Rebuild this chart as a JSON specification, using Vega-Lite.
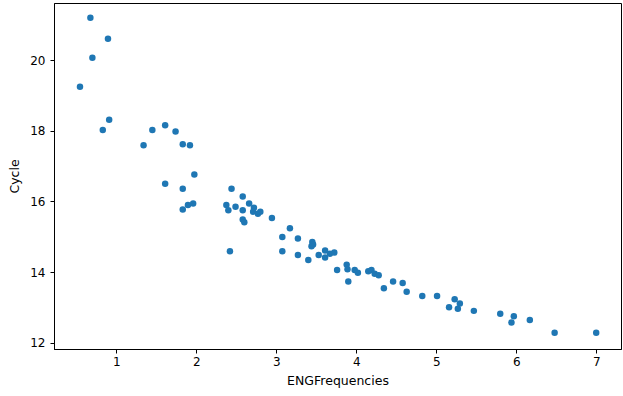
{
  "$schema": "https://vega.github.io/schema/vega-lite/v6.json",
  "autosize": {"type": "none"},
  "width": 567,
  "height": 346,
  "padding": {"left": 54, "top": 3, "right": 2, "bottom": 47},
  "background": "white",
  "config": {
    "view": {"stroke": "black", "strokeWidth": 1},
    "font": "DejaVu Sans",
    "axis": {
      "grid": false,
      "domainColor": "black",
      "tickColor": "black",
      "tickSize": 4,
      "labelColor": "black",
      "titleColor": "black",
      "labelFont": "DejaVu Sans",
      "titleFont": "DejaVu Sans",
      "labelFontSize": 12,
      "titleFontSize": 12.5,
      "titleFontWeight": "normal"
    }
  },
  "data": {
    "values": [
      {"ENGFrequencies": 0.675, "Cycle": 21.2},
      {"ENGFrequencies": 0.895, "Cycle": 20.61},
      {"ENGFrequencies": 0.70, "Cycle": 20.07},
      {"ENGFrequencies": 0.545, "Cycle": 19.25},
      {"ENGFrequencies": 0.91, "Cycle": 18.31},
      {"ENGFrequencies": 0.83, "Cycle": 18.02},
      {"ENGFrequencies": 1.34, "Cycle": 17.59},
      {"ENGFrequencies": 1.45, "Cycle": 18.02},
      {"ENGFrequencies": 1.61, "Cycle": 18.16},
      {"ENGFrequencies": 1.74, "Cycle": 17.98},
      {"ENGFrequencies": 1.83, "Cycle": 17.62},
      {"ENGFrequencies": 1.92, "Cycle": 17.59},
      {"ENGFrequencies": 1.975, "Cycle": 16.76},
      {"ENGFrequencies": 1.61, "Cycle": 16.5},
      {"ENGFrequencies": 1.83, "Cycle": 16.36},
      {"ENGFrequencies": 1.83, "Cycle": 15.77},
      {"ENGFrequencies": 1.895, "Cycle": 15.9},
      {"ENGFrequencies": 1.96, "Cycle": 15.94},
      {"ENGFrequencies": 2.44, "Cycle": 16.36},
      {"ENGFrequencies": 2.375, "Cycle": 15.9},
      {"ENGFrequencies": 2.40, "Cycle": 15.75},
      {"ENGFrequencies": 2.49, "Cycle": 15.85},
      {"ENGFrequencies": 2.42, "Cycle": 14.59},
      {"ENGFrequencies": 2.58, "Cycle": 16.14},
      {"ENGFrequencies": 2.58, "Cycle": 15.75},
      {"ENGFrequencies": 2.58, "Cycle": 15.49},
      {"ENGFrequencies": 2.60, "Cycle": 15.41},
      {"ENGFrequencies": 2.66, "Cycle": 15.94},
      {"ENGFrequencies": 2.72, "Cycle": 15.82},
      {"ENGFrequencies": 2.71, "Cycle": 15.71},
      {"ENGFrequencies": 2.77, "Cycle": 15.65},
      {"ENGFrequencies": 2.80, "Cycle": 15.71},
      {"ENGFrequencies": 2.945, "Cycle": 15.53},
      {"ENGFrequencies": 3.17, "Cycle": 15.24},
      {"ENGFrequencies": 3.075, "Cycle": 14.99},
      {"ENGFrequencies": 3.27, "Cycle": 14.95},
      {"ENGFrequencies": 3.075, "Cycle": 14.59},
      {"ENGFrequencies": 3.27, "Cycle": 14.48},
      {"ENGFrequencies": 3.40, "Cycle": 14.34},
      {"ENGFrequencies": 3.45, "Cycle": 14.85},
      {"ENGFrequencies": 3.46, "Cycle": 14.78},
      {"ENGFrequencies": 3.44, "Cycle": 14.73},
      {"ENGFrequencies": 3.53, "Cycle": 14.48},
      {"ENGFrequencies": 3.61, "Cycle": 14.61},
      {"ENGFrequencies": 3.61, "Cycle": 14.41},
      {"ENGFrequencies": 3.67, "Cycle": 14.52},
      {"ENGFrequencies": 3.725, "Cycle": 14.55},
      {"ENGFrequencies": 3.76, "Cycle": 14.06},
      {"ENGFrequencies": 3.88, "Cycle": 14.21},
      {"ENGFrequencies": 3.89, "Cycle": 14.08},
      {"ENGFrequencies": 3.90, "Cycle": 13.73},
      {"ENGFrequencies": 3.98, "Cycle": 14.06},
      {"ENGFrequencies": 4.02, "Cycle": 13.98},
      {"ENGFrequencies": 4.15, "Cycle": 14.02},
      {"ENGFrequencies": 4.19, "Cycle": 14.06},
      {"ENGFrequencies": 4.23, "Cycle": 13.95},
      {"ENGFrequencies": 4.28, "Cycle": 13.91},
      {"ENGFrequencies": 4.345, "Cycle": 13.54},
      {"ENGFrequencies": 4.46, "Cycle": 13.73},
      {"ENGFrequencies": 4.58, "Cycle": 13.69},
      {"ENGFrequencies": 4.63, "Cycle": 13.44},
      {"ENGFrequencies": 4.825, "Cycle": 13.32},
      {"ENGFrequencies": 5.01, "Cycle": 13.32},
      {"ENGFrequencies": 5.23, "Cycle": 13.23},
      {"ENGFrequencies": 5.295, "Cycle": 13.11},
      {"ENGFrequencies": 5.16, "Cycle": 13.0},
      {"ENGFrequencies": 5.27, "Cycle": 12.96},
      {"ENGFrequencies": 5.47, "Cycle": 12.9},
      {"ENGFrequencies": 5.80, "Cycle": 12.82},
      {"ENGFrequencies": 5.97, "Cycle": 12.75},
      {"ENGFrequencies": 5.94, "Cycle": 12.57},
      {"ENGFrequencies": 6.17, "Cycle": 12.64},
      {"ENGFrequencies": 6.48, "Cycle": 12.28},
      {"ENGFrequencies": 7.0, "Cycle": 12.28}
    ]
  },
  "mark": {"type": "point", "filled": true, "opacity": 1, "color": "#1f77b4", "size": 42, "shape": "circle"},
  "encoding": {
    "x": {
      "field": "ENGFrequencies",
      "type": "quantitative",
      "title": "ENGFrequencies",
      "scale": {"domain": [0.22, 7.31], "nice": false, "zero": false},
      "axis": {"values": [1, 2, 3, 4, 5, 6, 7], "labelPadding": 3, "titlePadding": 7}
    },
    "y": {
      "field": "Cycle",
      "type": "quantitative",
      "title": "Cycle",
      "scale": {"domain": [11.82, 21.62], "nice": false, "zero": false},
      "axis": {"values": [12, 14, 16, 18, 20], "labelPadding": 5, "titlePadding": 8}
    }
  }
}
